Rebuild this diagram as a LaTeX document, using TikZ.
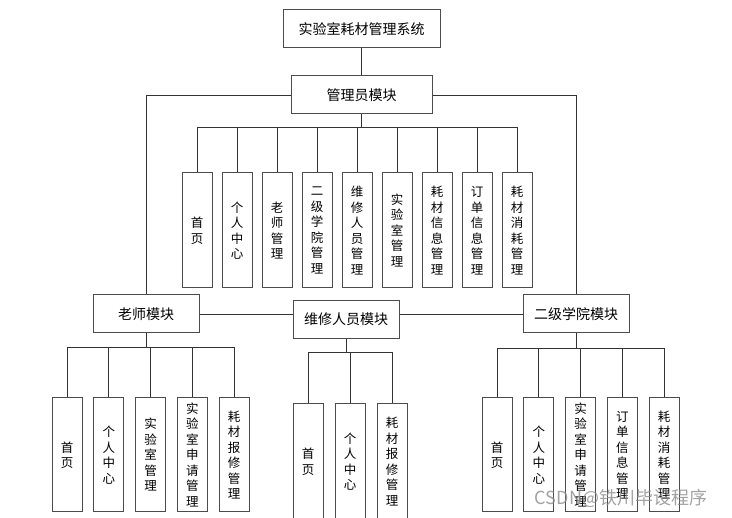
\documentclass[tikz,border=0pt]{standalone}
\usepackage{fontspec}
\setmainfont{Noto Sans CJK SC}
\usetikzlibrary{arrows,positioning}

\begin{document}
\begin{tikzpicture}[x=1pt,y=-1pt]
\tikzstyle{mbox}=[draw=black!70,line width=1pt,fill=white,minimum height=38pt,inner sep=0pt,font=\fontsize{14}{16}\selectfont]
\tikzstyle{leaf}=[draw=black!70,line width=1pt,fill=white,minimum width=30pt,minimum height=115pt,inner sep=0pt,align=center,font=\fontsize{12.5}{15.5}\selectfont]
\tikzstyle{link}=[draw=black!80,line width=0.9pt]
\useasboundingbox (0,0) rectangle (732,518);

% top and modules
\node[mbox,minimum width=157pt] (sys) at (361.5,29) {实验室耗材管理系统};
\node[mbox,minimum width=141pt] (admin) at (361.5,95) {管理员模块};
\node[mbox,minimum width=106pt] (teacher) at (146,314) {老师模块};
\node[mbox,minimum width=106pt] (repair) at (346,319.5) {维修人员模块};
\node[mbox,minimum width=106pt] (college) at (576,314) {二级学院模块};

\draw[link] (sys) -- (admin);
\draw[link] (admin.west) -| (teacher.north);
\draw[link] (admin.east) -| (college.north);
\draw[link] (teacher.east) -- (teacher.east -| repair.west);
\draw[link] (repair.east |- college.west) -- (college.west);

% admin leaves
\coordinate (abus) at (361.5,127);
\draw[link] (admin.south) -- (abus);
\foreach \t [count=\i from 0] in {{首\\页},{个\\人\\中\\心},{老\\师\\管\\理},{二\\级\\学\\院\\管\\理},{维\\修\\人\\员\\管\\理},{实\\验\\室\\管\\理},{耗\\材\\信\\息\\管\\理},{订\\单\\信\\息\\管\\理},{耗\\材\\消\\耗\\管\\理}}{
  \node[leaf] (a\i) at (197+40*\i,230.5) {\t};
  \draw[link] (abus) -| (a\i.north);
}

% teacher leaves
\coordinate (tbus) at (146,347);
\draw[link] (teacher.south) -- (tbus);
\foreach \t [count=\i from 0] in {{首\\页},{个\\人\\中\\心},{实\\验\\室\\管\\理},{实\\验\\室\\申\\请\\管\\理},{耗\\材\\报\\修\\管\\理}}{
  \node[leaf,minimum height=114pt] (t\i) at (67+41.75*\i,455) {\t};
  \draw[link] (tbus) -| (t\i.north);
}

% repair leaves
\coordinate (rbus) at (346,352);
\draw[link] (repair.south) -- (rbus);
\foreach \t [count=\i from 0] in {{首\\页},{个\\人\\中\\心},{耗\\材\\报\\修\\管\\理}}{
  \node[leaf] (r\i) at (308+42*\i,461.5) {\t};
  \draw[link] (rbus) -| (r\i.north);
}

% college leaves
\coordinate (cbus) at (576,348);
\draw[link] (college.south) -- (cbus);
\foreach \t [count=\i from 0] in {{首\\页},{个\\人\\中\\心},{实\\验\\室\\申\\请\\管\\理},{订\\单\\信\\息\\管\\理},{耗\\材\\消\\耗\\管\\理}}{
  \node[leaf,minimum height=114pt] (c\i) at (497+41.75*\i,455) {\t};
  \draw[link] (cbus) -| (c\i.north);
}

\node[text=black!45,opacity=0.8,font=\fontsize{18}{20}\selectfont] (mark) at (621,498) {CSDN@铁川毕设程序};
\end{tikzpicture}
\end{document}
